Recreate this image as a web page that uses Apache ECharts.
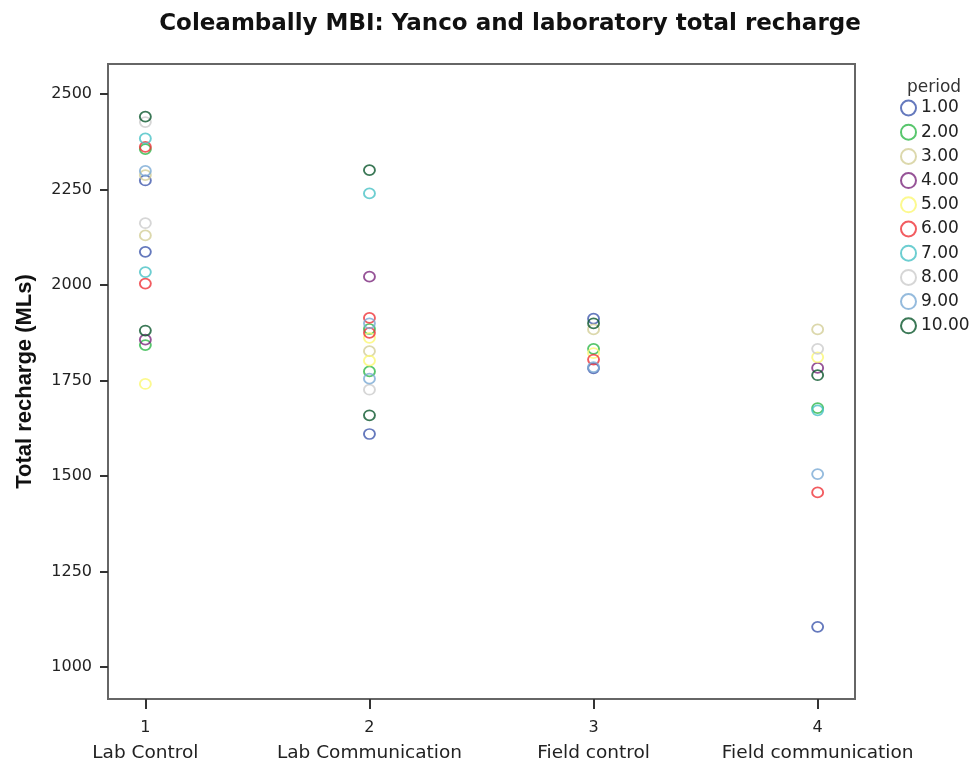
<!DOCTYPE html>
<html>
<head>
<meta charset="utf-8">
<script src="https://cdn.jsdelivr.net/npm/echarts@6/dist/echarts.min.js"></script>
<style>
html,body{margin:0;padding:0;background:#fff;}
#chart{width:973px;height:765px;}
</style>
</head>
<body>
<div id="chart"></div>
<script>
// ---- data ----
const chartTitle = 'Coleambally MBI: Yanco and laboratory total recharge';
const yAxisTitle = 'Total recharge (MLs)';
const legendTitle = 'period';
const categories = ['Lab Control', 'Lab Communication', 'Field control', 'Field communication'];
const categoryTicks = [1, 2, 3, 4];
const yTicks = [1000, 1250, 1500, 1750, 2000, 2250, 2500];
const periods = ['1.00', '2.00', '3.00', '4.00', '5.00', '6.00', '7.00', '8.00', '9.00', '10.00'];
const periodColors = ['#3e58ac', '#2eb848', '#d3ce97', '#7c287d', '#fbf873', '#ef3338', '#48c2c5', '#cccccc', '#7aaad5', '#0a562c'];
// [treatment, total recharge]
const period1 = [[1, 2274], [1, 2087], [2, 1610], [3, 1912], [3, 1782], [4, 1105]];
const period2 = [[1, 2356], [1, 1843], [2, 1885], [2, 1774], [3, 1833], [4, 1678]];
const period3 = [[1, 2288], [1, 2130], [2, 1827], [3, 1884], [4, 1884]];
const period4 = [[1, 1857], [2, 2022], [4, 1783]];
const period5 = [[1, 1741], [2, 1862], [2, 1802], [3, 1822], [4, 1811]];
const period6 = [[1, 2362], [1, 2004], [2, 1914], [2, 1875], [3, 1805], [4, 1457]];
const period7 = [[1, 2384], [1, 2034], [2, 2240], [4, 1672]];
const period8 = [[1, 2427], [1, 2162], [2, 1726], [4, 1833]];
const period9 = [[1, 2299], [2, 1900], [2, 1755], [3, 1785], [4, 1505]];
const period10 = [[1, 2441], [1, 1881], [2, 2301], [2, 1659], [3, 1900], [4, 1764]];
const periodData = [period1, period2, period3, period4, period5, period6, period7, period8, period9, period10];

// ---- chart ----
const FONT = '"DejaVu Sans", "Liberation Sans", sans-serif';
const FONT_Y = '"Liberation Sans", Arial, sans-serif';
const chart = echarts.init(document.getElementById('chart'), null, {renderer: 'canvas'});

const series = periods.map((p, i) => ({
  name: p,
  type: 'scatter',
  data: periodData[i],
  symbol: 'circle',
  symbolSize: [11, 10],
  itemStyle: {color: 'rgba(255,255,255,0)', borderColor: periodColors[i], borderWidth: 1.8},
  emphasis: {disabled: true}
}));

chart.setOption({
  animation: false,
  backgroundColor: '#fff',
  title: {
    text: chartTitle,
    left: 510, textAlign: 'center',
    top: 13,
    padding: 0,
    textStyle: {fontFamily: FONT, fontSize: 23, fontWeight: 'bold', color: '#111'}
  },
  graphic: [{
    type: 'text', left: 907, top: 79,
    style: {text: legendTitle, fontFamily: FONT, fontSize: 17, fill: '#333'}
  }],
  legend: {
    orient: 'vertical',
    left: 900, top: 99.5,
    padding: 0,
    itemWidth: 15, itemHeight: 15,
    itemGap: 7.2,
    icon: 'circle',
    itemStyle: {borderWidth: 2},
    textStyle: {fontFamily: FONT, fontSize: 17, color: '#222'},
    data: periods
  },
  grid: {
    left: 108, right: 118, top: 64, bottom: 66,
    show: true, borderColor: '#666', borderWidth: 2, containLabel: false
  },
  xAxis: {
    type: 'value',
    min: 0.8333, max: 4.1667,
    splitLine: {show: false},
    axisLine: {show: true, onZero: false, lineStyle: {color: '#666', width: 2}},
    axisTick: {show: true, customValues: categoryTicks, length: 10, lineStyle: {color: '#333', width: 2}},
    axisLabel: {
      customValues: categoryTicks,
      margin: 15,
      formatter: v => '{n|' + v + '}\n{c|' + categories[v - 1] + '}',
      rich: {
        n: {fontFamily: FONT, fontSize: 16, color: '#222', lineHeight: 28},
        c: {fontFamily: FONT, fontSize: 18.5, color: '#222', lineHeight: 22}
      }
    }
  },
  yAxis: {
    type: 'value',
    min: 916, max: 2579,
    name: yAxisTitle,
    nameLocation: 'middle',
    nameGap: 72,
    nameRotate: 90,
    nameTextStyle: {fontFamily: FONT_Y, fontSize: 22, fontWeight: 'bold', color: '#111'},
    splitLine: {show: false},
    axisLine: {show: true, onZero: false, lineStyle: {color: '#666', width: 2}},
    axisTick: {show: true, customValues: yTicks, length: 8, lineStyle: {color: '#333', width: 2}},
    axisLabel: {
      customValues: yTicks,
      margin: 16,
      formatter: v => String(v),
      fontFamily: FONT, fontSize: 16, color: '#222'
    }
  },
  series: series
});
</script>
</body>
</html>
